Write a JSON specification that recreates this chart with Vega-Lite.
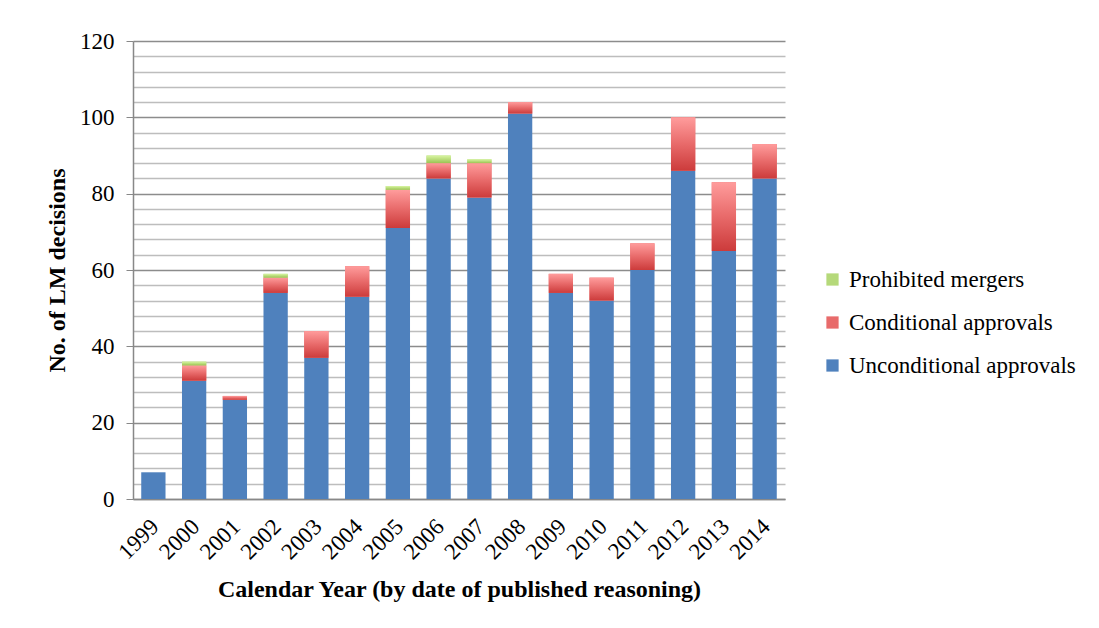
{
  "$schema": "https://vega.github.io/schema/vega-lite/v6.json",
  "width": 652,
  "height": 458,
  "autosize": "none",
  "padding": {"left": 133, "top": 41, "right": 314, "bottom": 129},
  "background": "white",
  "config": {
    "font": "Liberation Serif",
    "view": {"stroke": null}
  },
  "data": {
    "values": [
      {"year": "1999", "type": "Unconditional approvals", "count": 7},
      {"year": "2000", "type": "Unconditional approvals", "count": 31},
      {"year": "2000", "type": "Conditional approvals", "count": 4},
      {"year": "2000", "type": "Prohibited mergers", "count": 1},
      {"year": "2001", "type": "Unconditional approvals", "count": 26},
      {"year": "2001", "type": "Conditional approvals", "count": 1},
      {"year": "2002", "type": "Unconditional approvals", "count": 54},
      {"year": "2002", "type": "Conditional approvals", "count": 4},
      {"year": "2002", "type": "Prohibited mergers", "count": 1},
      {"year": "2003", "type": "Unconditional approvals", "count": 37},
      {"year": "2003", "type": "Conditional approvals", "count": 7},
      {"year": "2004", "type": "Unconditional approvals", "count": 53},
      {"year": "2004", "type": "Conditional approvals", "count": 8},
      {"year": "2005", "type": "Unconditional approvals", "count": 71},
      {"year": "2005", "type": "Conditional approvals", "count": 10},
      {"year": "2005", "type": "Prohibited mergers", "count": 1},
      {"year": "2006", "type": "Unconditional approvals", "count": 84},
      {"year": "2006", "type": "Conditional approvals", "count": 4},
      {"year": "2006", "type": "Prohibited mergers", "count": 2},
      {"year": "2007", "type": "Unconditional approvals", "count": 79},
      {"year": "2007", "type": "Conditional approvals", "count": 9},
      {"year": "2007", "type": "Prohibited mergers", "count": 1},
      {"year": "2008", "type": "Unconditional approvals", "count": 101},
      {"year": "2008", "type": "Conditional approvals", "count": 3},
      {"year": "2009", "type": "Unconditional approvals", "count": 54},
      {"year": "2009", "type": "Conditional approvals", "count": 5},
      {"year": "2010", "type": "Unconditional approvals", "count": 52},
      {"year": "2010", "type": "Conditional approvals", "count": 6},
      {"year": "2011", "type": "Unconditional approvals", "count": 60},
      {"year": "2011", "type": "Conditional approvals", "count": 7},
      {"year": "2012", "type": "Unconditional approvals", "count": 86},
      {"year": "2012", "type": "Conditional approvals", "count": 14},
      {"year": "2013", "type": "Unconditional approvals", "count": 65},
      {"year": "2013", "type": "Conditional approvals", "count": 18},
      {"year": "2014", "type": "Unconditional approvals", "count": 84},
      {"year": "2014", "type": "Conditional approvals", "count": 9}
    ]
  },
  "transform": [
    {"calculate": "datum.type === 'Unconditional approvals' ? 0 : (datum.type === 'Conditional approvals' ? 1 : 2)", "as": "ord"},
    {"stack": "count", "groupby": ["year"], "sort": [{"field": "ord", "order": "ascending"}], "as": ["y0", "y1"]}
  ],
  "encoding": {
    "x": {
      "field": "year",
      "type": "ordinal",
      "scale": {"paddingInner": 0.404, "paddingOuter": 0.202},
      "axis": {
        "title": "Calendar Year (by date of published reasoning)",
        "titleFont": "Liberation Serif",
        "titleFontSize": 24,
        "titleFontWeight": "bold",
        "titleColor": "black",
        "titlePadding": 14,
        "labelAngle": -45,
        "labelFontSize": 23,
        "labelColor": "black",
        "labelPadding": 16,
        "labelOffset": -6,
        "ticks": false,
        "domainColor": "#888888",
        "domainWidth": 1.5
      }
    },
    "y": {
      "field": "y0",
      "type": "quantitative",
      "scale": {"domain": [0, 120], "nice": false},
      "axis": {
        "title": "No. of  LM decisions",
        "titleFont": "Liberation Serif",
        "titleFontSize": 24,
        "titleFontWeight": "bold",
        "titleColor": "black",
        "titlePadding": 10,
        "values": [0,4,8,12,16,20,24,28,32,36,40,44,48,52,56,60,64,68,72,76,80,84,88,92,96,100,104,108,112,116,120],
        "labelExpr": "datum.value % 20 === 0 ? datum.label : ''",
        "labelFontSize": 23,
        "labelColor": "black",
        "labelPadding": 12,
        "tickSize": 7,
        "tickColor": "#888888",
        "tickOpacity": {"condition": {"test": "datum.value % 20 === 0", "value": 1}, "value": 0},
        "grid": true,
        "gridColor": {"condition": {"test": "datum.value % 20 === 0", "value": "#8c8c8c"}, "value": "#bdbdbd"},
        "gridWidth": 1.5,
        "domainColor": "#888888",
        "domainWidth": 1.5
      }
    },
    "y2": {"field": "y1"}
  },
  "layer": [
    {
      "mark": {"type": "bar"},
      "encoding": {
        "color": {
          "field": "type",
          "type": "nominal",
          "scale": {
            "domain": ["Prohibited mergers", "Conditional approvals", "Unconditional approvals"],
            "range": ["#b5d97a", "#e86b6b", "#4f81bd"]
          },
          "legend": {
            "title": null,
            "orient": "none",
            "legendX": 688,
            "legendY": 227,
            "symbolType": "square",
            "symbolSize": 150,
            "symbolStrokeWidth": 0,
            "labelFont": "Liberation Serif",
            "labelFontSize": 23,
            "labelColor": "black",
            "labelOffset": 5,
            "labelLimit": 0,
            "rowPadding": 19
          }
        }
      }
    },
    {
      "transform": [{"filter": "datum.type === 'Conditional approvals'"}],
      "mark": {
        "type": "bar",
        "fill": {
          "gradient": "linear", "x1": 0, "y1": 1, "x2": 0, "y2": 0,
          "stops": [{"offset": 0, "color": "#cc3b3b"}, {"offset": 0.5, "color": "#e86a6a"}, {"offset": 1, "color": "#ff9c9c"}]
        }
      }
    },
    {
      "transform": [{"filter": "datum.type === 'Prohibited mergers'"}],
      "mark": {
        "type": "bar",
        "fill": {
          "gradient": "linear", "x1": 0, "y1": 1, "x2": 0, "y2": 0,
          "stops": [{"offset": 0, "color": "#9bc453"}, {"offset": 1, "color": "#d8f5a2"}]
        }
      }
    }
  ]
}
